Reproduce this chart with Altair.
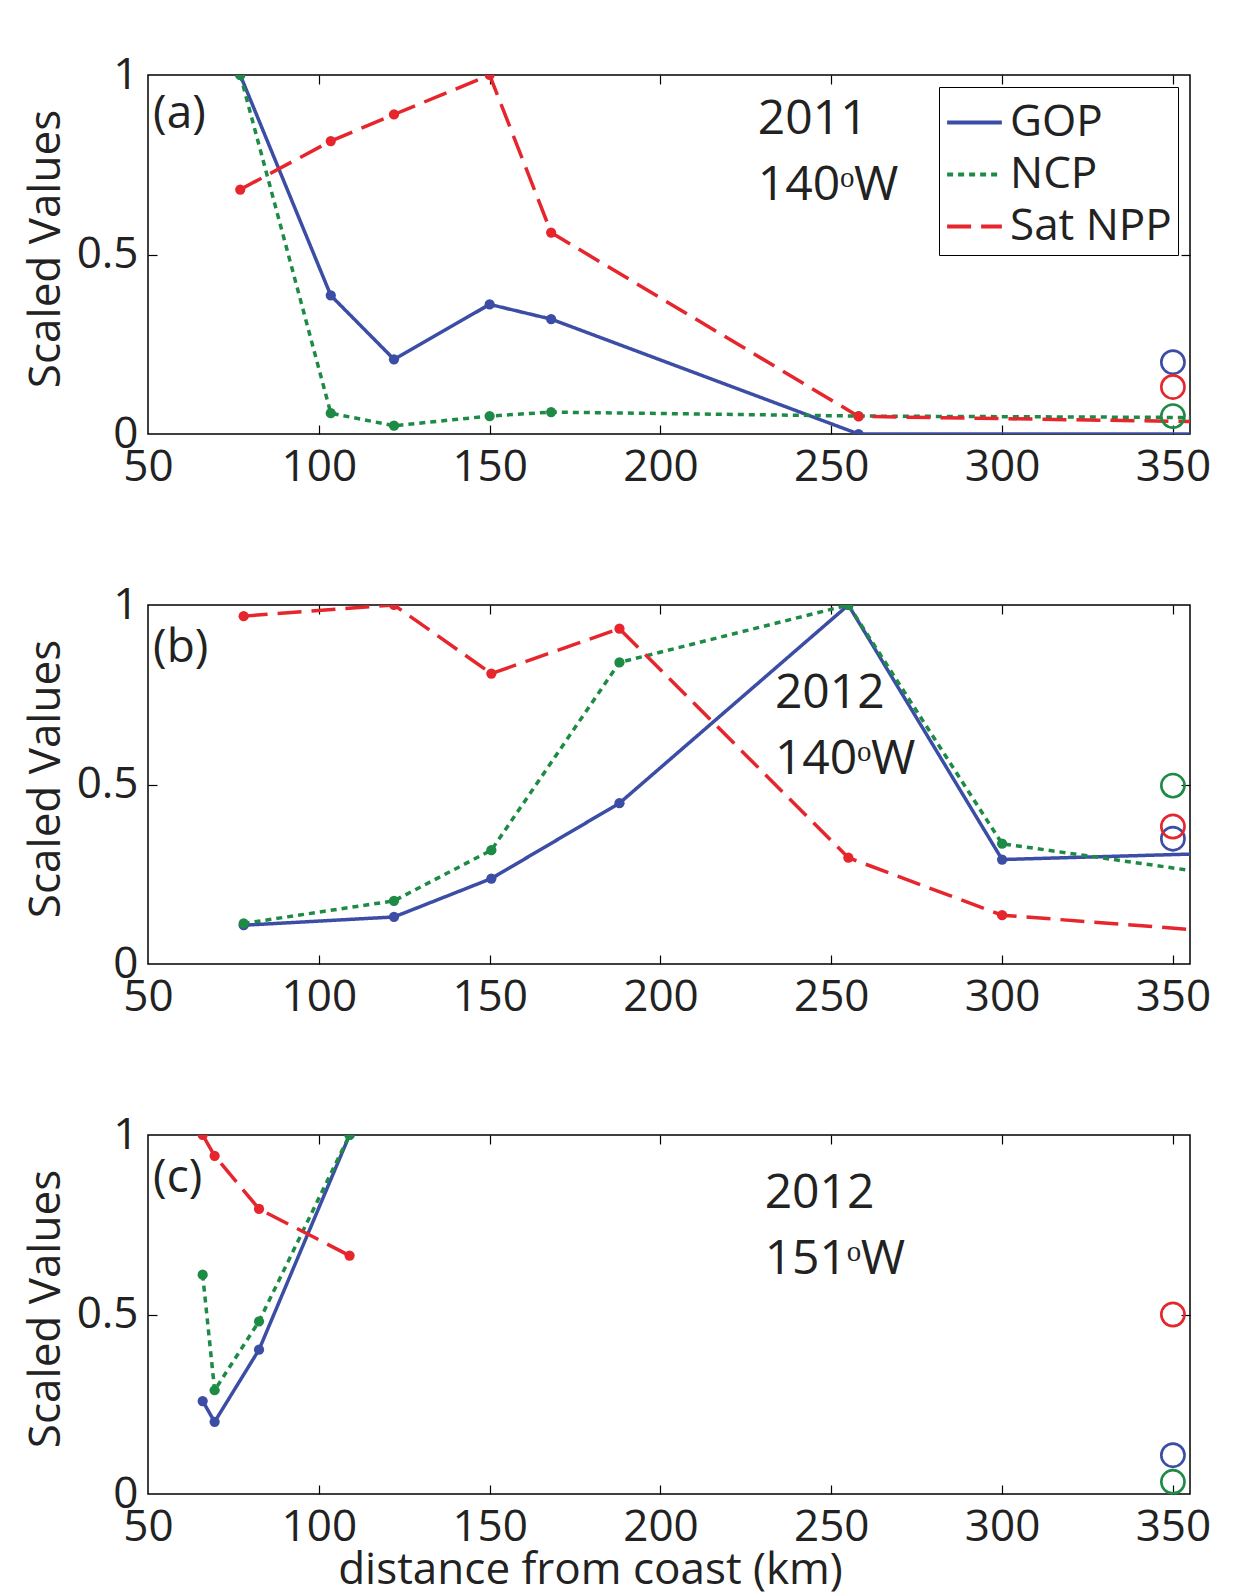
import altair as alt
import pandas as pd

FONT = "Open Sans"
SERIES = ["GOP", "NCP", "Sat NPP"]
COLORS = ["#3b4da5", "#1d8b45", "#e6252d"]
DASHES = [[1, 0], [6, 5], [24, 10]]

X_TICKS = [50, 100, 150, 200, 250, 300, 350]
Y_TICKS = [0, 0.5, 1]
REF_DIST = 350

# Panel (a): 2011, 140W
dist_a = [77, 103.5, 122, 150, 168, 258, 380]
gop_a = [1.0, 0.386, 0.208, 0.361, 0.32, 0.0, 0.0]
ncp_a = [1.0, 0.058, 0.023, 0.05, 0.061, 0.05, 0.045]
npp_a = [0.681, 0.816, 0.89, 1.0, 0.561, 0.049, 0.031]
ref_a = [0.2, 0.05, 0.131]  # GOP, NCP, Sat NPP open circles

# Panel (b): 2012, 140W
dist_b = [78, 122, 150.5, 188, 255, 300, 380]
gop_b = [0.108, 0.131, 0.238, 0.448, 1.0, 0.291, 0.313]
ncp_b = [0.113, 0.176, 0.317, 0.84, 1.0, 0.335, 0.227]
npp_b = [0.969, 1.0, 0.809, 0.934, 0.296, 0.136, 0.078]
ref_b = [0.349, 0.497, 0.383]

# Panel (c): 2012, 151W
dist_c = [66, 69.5, 82.5, 109]
gop_c = [0.259, 0.201, 0.402, 1.0]
ncp_c = [0.611, 0.289, 0.481, 1.0]
npp_c = [1.0, 0.942, 0.794, 0.664]
ref_c = [0.108, 0.034, 0.5]

LETTERS = ["(a)", "(b)", "(c)"]
YEARS = ["2011", "2012", "2012"]
LONS = ["140ᵒW", "140ᵒW", "151ᵒW"]

W, H = 1042, 359
XDOM = [50, 355]


def long_df(dist, gop, ncp, npp):
    rows = []
    for s, vals in zip(SERIES, [gop, ncp, npp]):
        for d, v in zip(dist, vals):
            rows.append({"series": s, "dist": d, "value": v})
    return pd.DataFrame(rows)


def ref_df(vals):
    return pd.DataFrame({"series": SERIES, "dist": [REF_DIST] * 3, "value": vals})


def panel(df, refs, i, ann_pos, show_legend, xtitle):
    xs = alt.Scale(domain=XDOM, nice=False, zero=False)
    ys = alt.Scale(domain=[0, 1], nice=False, zero=False)
    cscale = alt.Scale(domain=SERIES, range=COLORS)
    dscale = alt.Scale(domain=SERIES, range=DASHES)

    if show_legend:
        leg = alt.Legend(
            title=None, orient="top-right", offset=12, symbolType="stroke",
            symbolSize=3000, symbolStrokeWidth=4, labelFontSize=44, labelFont=FONT,
            labelColor="#222", strokeColor="black", fillColor="white",
            padding=6, rowPadding=0, labelOffset=6, cornerRadius=0, labelLimit=0,
        )
    else:
        leg = None

    x_main = alt.Axis(
        values=X_TICKS, labelFlush=False, ticks=False, domain=False, grid=False,
        labelFontSize=44, labelPadding=11, labelFont=FONT, labelColor="#222",
        titleFontSize=44, titleFont=FONT, titleFontWeight="normal", titleColor="#222",
        titleX=442, titleY=76, titleBaseline="middle", titleAlign="center",
    )
    y_main = alt.Axis(
        values=Y_TICKS, format="~g", labelFlush=False, ticks=False, domain=False,
        grid=False, labelFontSize=44, labelPadding=10, labelFont=FONT, labelColor="#222",
        titleFontSize=44, titleFont=FONT, titleFontWeight="normal", titleColor="#222",
        titleX=-102, titleY=H / 2 - 6, titleBaseline="middle", titleAlign="center",
        titleAngle=270,
    )

    def tick_axis(orient, values, offset):
        return alt.Axis(orient=orient, offset=offset, values=values, labels=False,
                        domain=False, grid=False, ticks=True, tickSize=9,
                        tickWidth=1.2, tickColor="black", title=None)

    lines = alt.Chart(df).mark_line(strokeWidth=3.5, clip=True).encode(
        x=alt.X("dist:Q", scale=xs, axis=x_main, title=xtitle),
        y=alt.Y("value:Q", scale=ys, axis=y_main, title="Scaled Values"),
        color=alt.Color("series:N", scale=cscale, legend=leg),
        strokeDash=alt.StrokeDash("series:N", scale=dscale, legend=leg),
        order="dist:Q",
    )
    points = alt.Chart(df).mark_circle(size=105, opacity=1, clip=True).encode(
        x=alt.X("dist:Q", scale=xs, axis=tick_axis("top", X_TICKS[1:], -H)),
        y=alt.Y("value:Q", scale=ys, axis=tick_axis("right", [0.5], -W)),
        color=alt.Color("series:N", scale=cscale, legend=None),
    )
    circles = alt.Chart(refs).mark_point(shape="circle", filled=False, size=540,
                                         strokeWidth=2.6, opacity=1).encode(
        x=alt.X("dist:Q", scale=xs, axis=tick_axis("bottom", X_TICKS[1:], -H)),
        y=alt.Y("value:Q", scale=ys, axis=tick_axis("left", [0.5], -W)),
        color=alt.Color("series:N", scale=cscale, legend=None),
    )
    (lx, ly), (ax, ay1, ay2) = ann_pos
    letter = alt.Chart(pd.DataFrame({"t": [LETTERS[i]]})).mark_text(
        align="left", baseline="middle", fontSize=46, font=FONT, color="#222"
    ).encode(x=alt.value((lx - XDOM[0]) / (XDOM[1] - XDOM[0]) * W),
             y=alt.value((1 - ly) * H), text="t:N")
    year = alt.Chart(pd.DataFrame({"t": [YEARS[i]]})).mark_text(
        align="left", baseline="middle", fontSize=48, font=FONT, color="#222"
    ).encode(x=alt.value((ax - XDOM[0]) / (XDOM[1] - XDOM[0]) * W),
             y=alt.value((1 - ay1) * H), text="t:N")
    lon = alt.Chart(pd.DataFrame({"t": [LONS[i]]})).mark_text(
        align="left", baseline="middle", fontSize=48, font=FONT, color="#222"
    ).encode(x=alt.value((ax - XDOM[0]) / (XDOM[1] - XDOM[0]) * W),
             y=alt.value((1 - ay2) * H), text="t:N")

    return alt.layer(lines, points, circles, letter, year, lon).resolve_axis(
        x="independent", y="independent"
    ).properties(width=W, height=H)


pa = panel(long_df(dist_a, gop_a, ncp_a, npp_a), ref_df(ref_a), 0,
           ((51.5, 0.89), (228.5, 0.875, 0.69)), True, None)
pb = panel(long_df(dist_b, gop_b, ncp_b, npp_b), ref_df(ref_b), 1,
           ((51.5, 0.88), (233.5, 0.753, 0.568)), False, None)
pc = panel(long_df(dist_c, gop_c, ncp_c, npp_c), ref_df(ref_c), 2,
           ((51.5, 0.88), (230.5, 0.836, 0.652)), False, "distance from coast (km)")

chart = alt.vconcat(pa, pb, pc, spacing=171, bounds="flush").resolve_legend(
    color="independent", strokeDash="independent"
).properties(
    padding={"left": 23, "top": 52, "right": 40, "bottom": 10},
    background="white",
).configure_view(stroke="black", strokeWidth=1.5)

chart.save("out.html", embed_options={"renderer": "svg", "actions": False})
